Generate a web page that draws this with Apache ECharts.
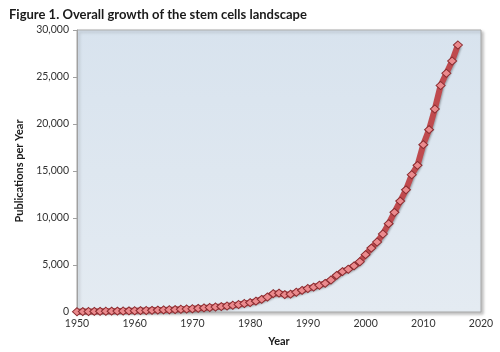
<!DOCTYPE html>
<html>
<head>
<meta charset="utf-8">
<script src="https://cdn.jsdelivr.net/npm/echarts@6/dist/echarts.min.js"></script>
<style>
  html, body { margin: 0; padding: 0; background: #fff; }
  #chart { width: 500px; height: 352px; }
</style>
</head>
<body>
<div id="chart"></div>
<script>
// publications per year
const years = [];
for (let y = 1950; y <= 2016; y++) years.push(y);
const publications = [
  30, 40, 50, 60, 70, 80, 90, 100, 110, 120,          // 1950-59
  130, 150, 160, 180, 200, 220, 240, 260, 290, 320,   // 1960-69
  350, 390, 430, 480, 530, 580, 640, 720, 800, 900,   // 1970-79
  1000, 1150, 1350, 1600, 1950, 2000, 1850, 1900, 2100, 2300, // 1980-89
  2500, 2650, 2850, 3050, 3400, 3900, 4300, 4550, 4900, 5350, // 1990-99
  6100, 6800, 7450, 8300, 9400, 10600, 11800, 13000, 14600, 15600, // 2000-09
  17800, 19400, 21600, 24100, 25400, 26700, 28400     // 2010-16
];
const titleText = 'Figure 1. Overall growth of the stem cells landscape';
const yName = 'Publications per Year';
const xName = 'Year';

const chart = echarts.init(document.getElementById('chart'));
const font = 'Lato, "Open Sans", sans-serif';

chart.setOption({
  animation: false,
  title: {
    text: titleText,
    left: 4,
    top: 3,
    textStyle: { fontFamily: font, fontSize: 13, fontWeight: 'bold', color: '#1a1a1a' }
  },
  grid: {
    left: 77, right: 19, top: 30, bottom: 36,
    show: true,
    borderColor: '#a9a9a9',
    borderWidth: 1,
    shadowColor: 'rgba(0,0,0,0.25)',
    shadowBlur: 3,
    shadowOffsetX: 2,
    shadowOffsetY: 2,
    backgroundColor: new echarts.graphic.LinearGradient(0, 0, 0, 1, [
      { offset: 0, color: '#d8e3ee' },
      { offset: 1, color: '#e4ebf2' }
    ])
  },
  xAxis: {
    type: 'value',
    min: 1950, max: 2020, interval: 10,
    name: xName,
    nameLocation: 'middle',
    nameGap: 24,
    nameTextStyle: { fontFamily: font, fontSize: 11, fontWeight: 'bold', color: '#1a1a1a' },
    axisLine: { show: false },
    axisTick: { show: false },
    splitLine: { show: false },
    axisLabel: { fontFamily: font, fontSize: 10.5, color: '#333', margin: 6, formatter: v => String(v) }
  },
  yAxis: {
    type: 'value',
    min: 0, max: 30000, interval: 5000,
    name: yName,
    nameLocation: 'middle',
    nameGap: 49,
    nameTextStyle: { fontFamily: font, fontSize: 11, fontWeight: 'bold', color: '#1a1a1a' },
    axisLine: { show: true, lineStyle: { color: '#a0a0a0' } },
    axisTick: { show: true, length: 4, lineStyle: { color: '#a0a0a0' } },
    splitLine: { show: false },
    axisLabel: {
      fontFamily: font, fontSize: 10.5, color: '#333', margin: 8,
      formatter: v => v.toLocaleString('en-US')
    }
  },
  series: [{
    type: 'line',
    data: years.map((y, i) => [y, publications[i]]),
    lineStyle: {
      color: '#bf4a4e', width: 6,
      shadowColor: 'rgba(0,0,0,0.3)', shadowBlur: 2, shadowOffsetX: 1, shadowOffsetY: 1
    },
    symbol: 'diamond',
    symbolSize: [9, 8],
    itemStyle: { color: '#eb8a8d', borderColor: '#8a2c30', borderWidth: 1 }
  }]
});
</script>
</body>
</html>
